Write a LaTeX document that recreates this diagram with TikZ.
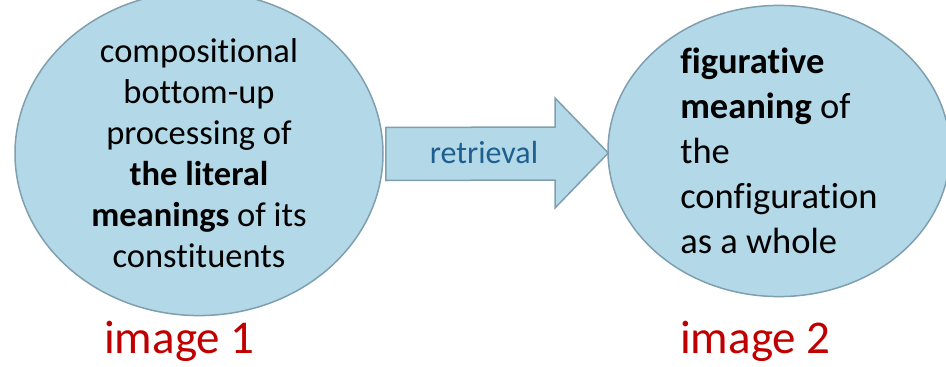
\documentclass[tikz,border=0pt]{standalone}
\usepackage{fontspec}
\setmainfont[RawFeature=-liga]{Carlito}
\usetikzlibrary{shapes.geometric,calc}
\definecolor{fillblue}{HTML}{B3D9E8}
\definecolor{edgeblue}{HTML}{809FAE}
\definecolor{labelblue}{HTML}{1F5F8F}
\definecolor{capred}{HTML}{C00000}
\tikzset{
  blob/.style={ellipse, draw=edgeblue, fill=fillblue, line width=1.5pt, inner sep=0pt},
  blockarrow/.style={draw=edgeblue, fill=fillblue, line width=1.5pt, line join=miter},
  caption/.style={text=capred, font=\fontsize{47}{50}\selectfont, anchor=base west, inner sep=0pt},
}
\begin{document}
\begin{tikzpicture}[x=1pt,y=-1pt]
\useasboundingbox (0,0) rectangle (946,367);
\node[blob, minimum width=368pt, minimum height=282pt, align=center,
      font=\fontsize{34.5}{41}\selectfont] (a) at (199,153.5)
  {compositional\\bottom-up\\processing of\\\textbf{the literal}\\\textbf{meanings} of its\\constituents};
\node[blob, minimum width=342pt, minimum height=284pt, align=left,
      font=\fontsize{36.5}{45}\selectfont] (b) at (779,151)
  {\textbf{figurative}\\\textbf{meaning} of\\the\\configuration\\as a whole};
\coordinate (s1) at ($(a.east)+(2,-26)$);
\coordinate (s2) at ($(a.east)+(2,27)$);
\coordinate (tip) at ($(b.west)+(1,2)$);
\draw[blockarrow] (s1) -- (555,127) -- (555,98) -- (tip) -- (555,208) -- (555,180) -- (s2) -- cycle;
\node[text=labelblue, font=\fontsize{32}{36}\selectfont, inner sep=0pt] (r) at (484,153) {retrieval};
\node[caption] (c1) at (104,353) {image 1};
\node[caption] (c2) at (680,353) {image 2};
\end{tikzpicture}
\end{document}
